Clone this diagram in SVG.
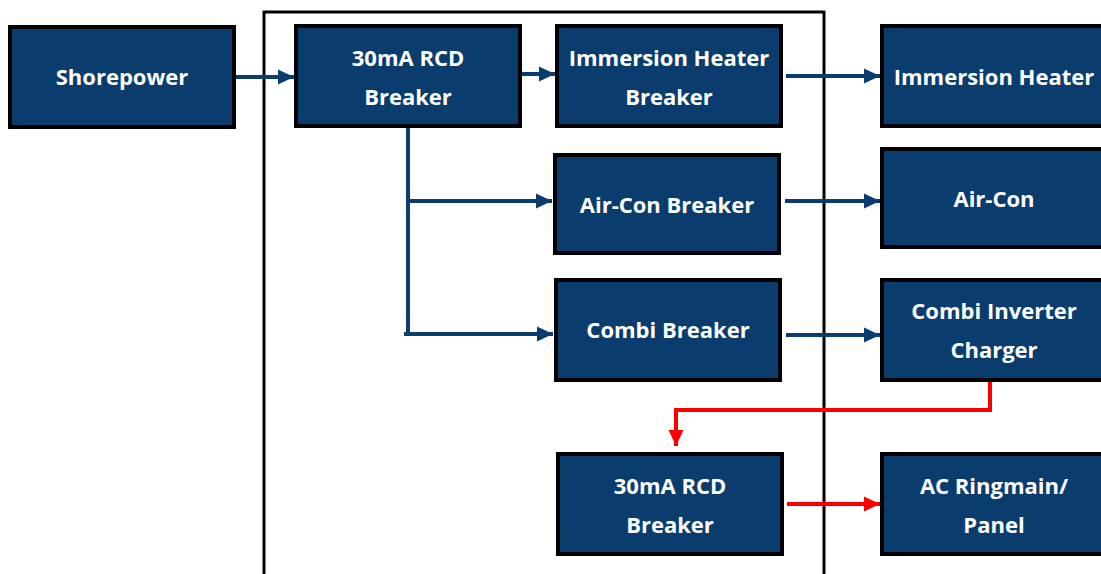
<svg xmlns="http://www.w3.org/2000/svg" width="1101" height="574" viewBox="0 0 1101 574">
<defs>
<style>
.box{fill:#0a3c6e;stroke:#000;stroke-width:4}
.t{font-family:"Open Sans","Liberation Sans",sans-serif;font-weight:700;font-size:22px;fill:#fff;text-anchor:middle}
.b{fill:none;stroke:#0a3c6e;stroke-width:4}
.r{fill:none;stroke:#ff0000;stroke-width:4}
</style>
<marker id="ab" markerUnits="userSpaceOnUse" markerWidth="17" markerHeight="17" refX="16" refY="8.5" orient="auto"><path d="M0,1 L16,8.5 L0,16 Z" fill="#0a3c6e"/></marker>
<marker id="ar" markerUnits="userSpaceOnUse" markerWidth="17" markerHeight="17" refX="16" refY="8.5" orient="auto"><path d="M0,1 L16,8.5 L0,16 Z" fill="#ff0000"/></marker>
</defs>
<rect x="264" y="12" width="560" height="600" fill="none" stroke="#000" stroke-width="3"/>
<g id="connectors">
<path class="b" d="M236,77 H294" marker-end="url(#ab)"/>
<path class="b" d="M522,74 H555" marker-end="url(#ab)"/>
<path class="b" d="M786,76 H880" marker-end="url(#ab)"/>
<path class="b" d="M408,128 V334"/>
<path class="b" d="M408,201 H552" marker-end="url(#ab)"/>
<path class="b" d="M404,334 H553" marker-end="url(#ab)"/>
<path class="b" d="M785,201 H880" marker-end="url(#ab)"/>
<path class="b" d="M786,335 H880" marker-end="url(#ab)"/>
<path class="r" d="M990,382 V410 H676 V446" marker-end="url(#ar)"/>
<path class="r" d="M787,504 H880" marker-end="url(#ar)"/>
</g>
<g id="shorepower"><rect class="box" x="10" y="27" width="224" height="100"/><text class="t" x="122" y="85">Shorepower</text></g>
<g id="rcd1"><rect class="box" x="296" y="26" width="224" height="100"/><text class="t" x="408" y="66">30mA RCD</text><text class="t" x="408" y="105">Breaker</text></g>
<g id="ihb"><rect class="box" x="557" y="26" width="224" height="100"/><text class="t" x="669" y="66">Immersion Heater</text><text class="t" x="669" y="105">Breaker</text></g>
<g id="ih"><rect class="box" x="882" y="26" width="228" height="100"/><text class="t" x="994" y="85">Immersion Heater</text></g>
<g id="acb"><rect class="box" x="555" y="155" width="224" height="98"/><text class="t" x="667" y="213">Air-Con Breaker</text></g>
<g id="ac"><rect class="box" x="882" y="149" width="228" height="98"/><text class="t" x="994" y="207">Air-Con</text></g>
<g id="cb"><rect class="box" x="556" y="280" width="224" height="100"/><text class="t" x="668" y="338">Combi Breaker</text></g>
<g id="cic"><rect class="box" x="882" y="280" width="228" height="100"/><text class="t" x="994" y="319">Combi Inverter</text><text class="t" x="994" y="358">Charger</text></g>
<g id="rcd2"><rect class="box" x="558" y="454" width="224" height="100"/><text class="t" x="670" y="494">30mA RCD</text><text class="t" x="670" y="533">Breaker</text></g>
<g id="acr"><rect class="box" x="882" y="454" width="228" height="100"/><text class="t" x="994" y="494">AC Ringmain/</text><text class="t" x="994" y="533">Panel</text></g>
</svg>
